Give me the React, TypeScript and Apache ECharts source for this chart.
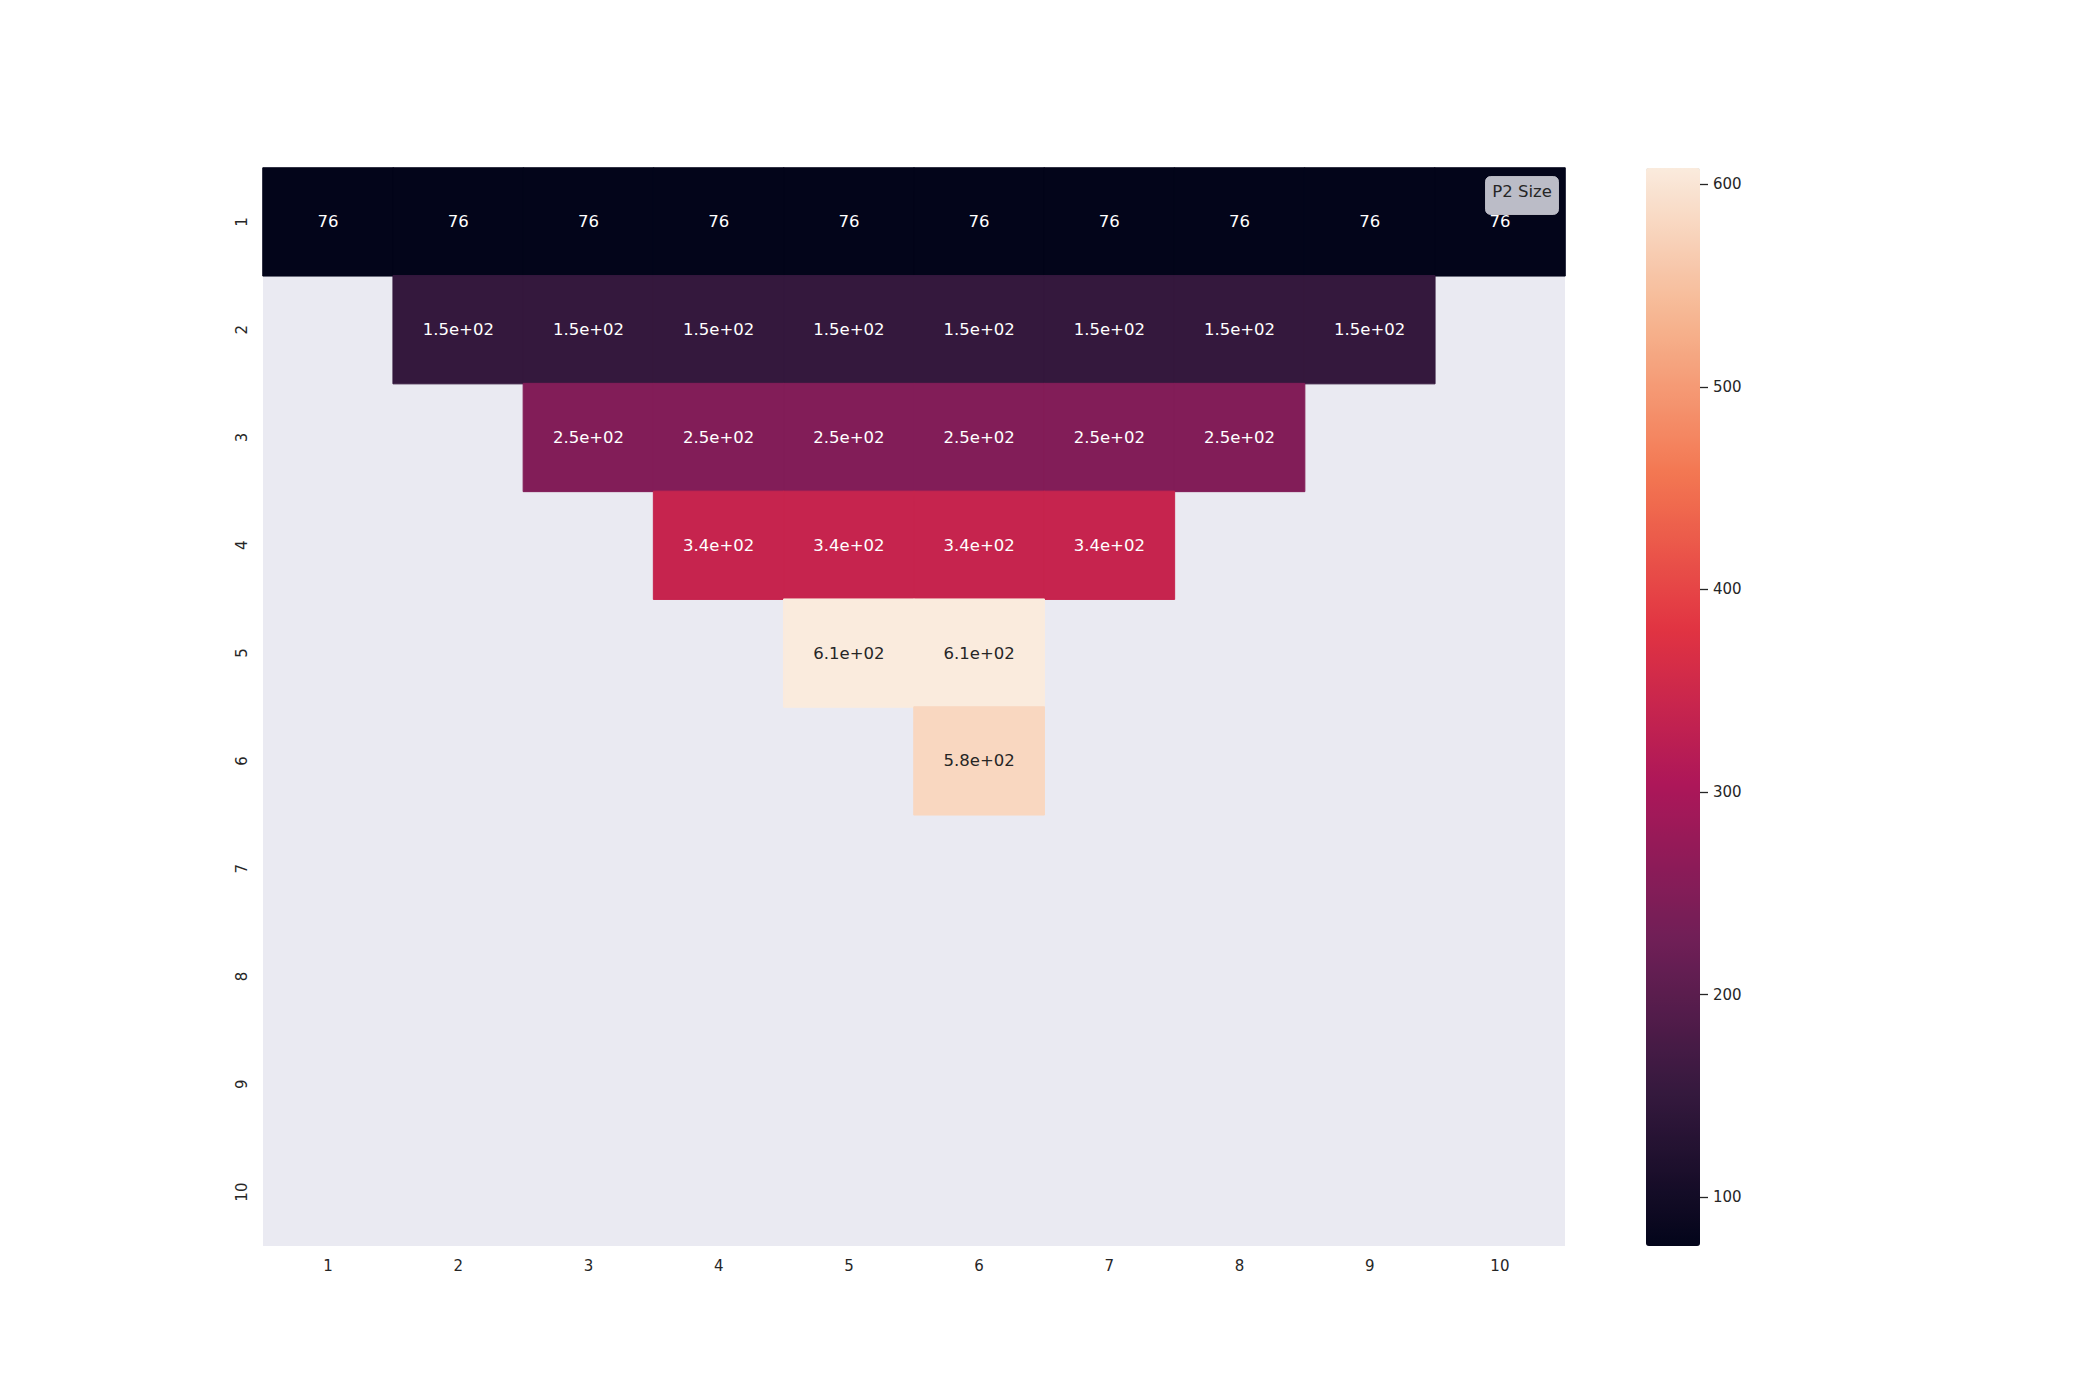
import React, { useEffect, useRef } from "react";
import * as echarts from "echarts";

const xCategories = ["1", "2", "3", "4", "5", "6", "7", "8", "9", "10"];
const yCategories = ["1", "2", "3", "4", "5", "6", "7", "8", "9", "10"];

// P2 Size matrix (rows = y category 1..10, cols = x category 1..10), null = empty
const p2Size: (number | null)[][] = [
  [76, 76, 76, 76, 76, 76, 76, 76, 76, 76],
  [null, 150, 150, 150, 150, 150, 150, 150, 150, null],
  [null, null, 250, 250, 250, 250, 250, 250, null, null],
  [null, null, null, 340, 340, 340, 340, null, null, null],
  [null, null, null, null, 608, 608, null, null, null, null],
  [null, null, null, null, null, 580, null, null, null, null],
  [null, null, null, null, null, null, null, null, null, null],
  [null, null, null, null, null, null, null, null, null, null],
  [null, null, null, null, null, null, null, null, null, null],
  [null, null, null, null, null, null, null, null, null, null],
];

const colorbarTicks = [100, 200, 300, 400, 500, 600];
const vMin = 76;
const vMax = 608;
const rocketStops = ["#03051A", "#35193E", "#701F57", "#AD1759", "#E13342", "#F37651", "#F6B48F", "#FAEBDD"];
const legendLabel = "P2 Size";

const FONT = "DejaVu Sans";

function fmtG2(v: number): string {
  if (Math.abs(v) < 100) return v.toPrecision(2);
  const s = v.toExponential(1);
  const [m, e] = s.split("e");
  const sign = e[0] === "-" ? "-" : "+";
  const digits = e.replace(/^[+-]/, "").padStart(2, "0");
  return `${m}e${sign}${digits}`;
}

function hexToRgb(h: string): number[] {
  const n = parseInt(h.slice(1), 16);
  return [(n >> 16) & 255, (n >> 8) & 255, n & 255];
}

function rocket(norm: number): string {
  const t = Math.max(0, Math.min(1, norm)) * (rocketStops.length - 1);
  const i = Math.min(rocketStops.length - 2, Math.floor(t));
  const f = t - i;
  const a = hexToRgb(rocketStops[i]);
  const b = hexToRgb(rocketStops[i + 1]);
  const c = a.map((v, k) => Math.round(v + (b[k] - v) * f));
  return `rgb(${c[0]},${c[1]},${c[2]})`;
}

export default function App() {
  const ref = useRef<HTMLDivElement>(null);
  useEffect(() => {
    document.body.style.margin = "0";
    if (!ref.current) return;
    const chart = echarts.init(ref.current, undefined, { renderer: "svg" });
    const data: any[] = [];
    p2Size.forEach((row, yi) => {
      row.forEach((v, xi) => {
        if (v === null) return;
        const norm = (v - vMin) / (vMax - vMin);
        const col = rocket(norm);
        data.push({
          value: [xi, yi, v],
          itemStyle: { color: col, borderColor: col, borderWidth: 1 },
          label: { color: norm > 0.6 ? "#262626" : "#FFFFFF" },
        });
      });
    });
    chart.setOption({
      animation: false,
      backgroundColor: "#FFFFFF",
      textStyle: { fontFamily: FONT },
      grid: [
        { left: 263, top: 168, width: 1302, height: 1078, show: true, backgroundColor: "#EAEAF2", borderWidth: 0 },
        { left: 1646, top: 168, width: 54, height: 1078, show: false },
      ],
      xAxis: [
        {
          type: "category",
          data: xCategories,
          gridIndex: 0,
          axisLine: { show: false },
          axisTick: { show: false },
          splitLine: { show: false },
          axisLabel: { fontFamily: FONT, fontSize: 15, color: "#262626", margin: 12 },
        },
        { type: "value", gridIndex: 1, show: false, min: 0, max: 1 },
      ],
      yAxis: [
        {
          type: "category",
          data: yCategories,
          inverse: true,
          gridIndex: 0,
          axisLine: { show: false },
          axisTick: { show: false },
          splitLine: { show: false },
          axisLabel: { fontFamily: FONT, fontSize: 15, color: "#262626", rotate: 90, margin: 14 },
        },
        {
          type: "value",
          gridIndex: 1,
          position: "right",
          min: vMin,
          max: vMax,
          z: 10,
          axisLine: { show: true, onZero: false, lineStyle: { color: "#262626", opacity: 0 } },
          splitLine: { show: false },
          axisTick: {
            show: true,
            inside: false,
            length: 8,
            customValues: colorbarTicks,
            lineStyle: { color: "#262626", width: 1.3, opacity: 1 },
          },
          axisLabel: { fontFamily: FONT, fontSize: 15, color: "#262626", margin: 13, customValues: colorbarTicks },
        },
      ],
      visualMap: {
        type: "continuous",
        min: vMin,
        max: vMax,
        seriesIndex: 0,
        calculable: false,
        left: 1646,
        top: 168,
        padding: 0,
        itemWidth: 54,
        itemHeight: 1078,
        text: ["", ""],
        showLabel: false,
        inRange: { color: rocketStops },
      },
      series: [
        {
          name: legendLabel,
          type: "heatmap",
          xAxisIndex: 0,
          yAxisIndex: 0,
          data,
          label: {
            show: true,
            fontFamily: FONT,
            fontSize: 16.5,
            formatter: (p: any) => fmtG2(p.value[2]),
          },
          emphasis: { disabled: true },
        },
      ],
      graphic: [
        {
          type: "group",
          left: 1485,
          top: 176,
          z: 100,
          children: [
            {
              type: "rect",
              z: 100,
              shape: { x: 0, y: 0, width: 73, height: 38, r: 5 },
              style: { fill: "rgba(234,234,242,0.8)", stroke: "rgba(204,204,212,0.8)", lineWidth: 1 },
            },
            {
              type: "text",
              z: 101,
              x: 36.5,
              y: 15,
              style: {
                text: legendLabel,
                fontFamily: FONT,
                fontSize: 16.5,
                fill: "#262626",
                align: "center",
                verticalAlign: "middle",
              },
            },
          ],
        },
      ],
    });
    return () => chart.dispose();
  }, []);
  return <div ref={ref} style={{ width: 2100, height: 1400 }} />;
}
